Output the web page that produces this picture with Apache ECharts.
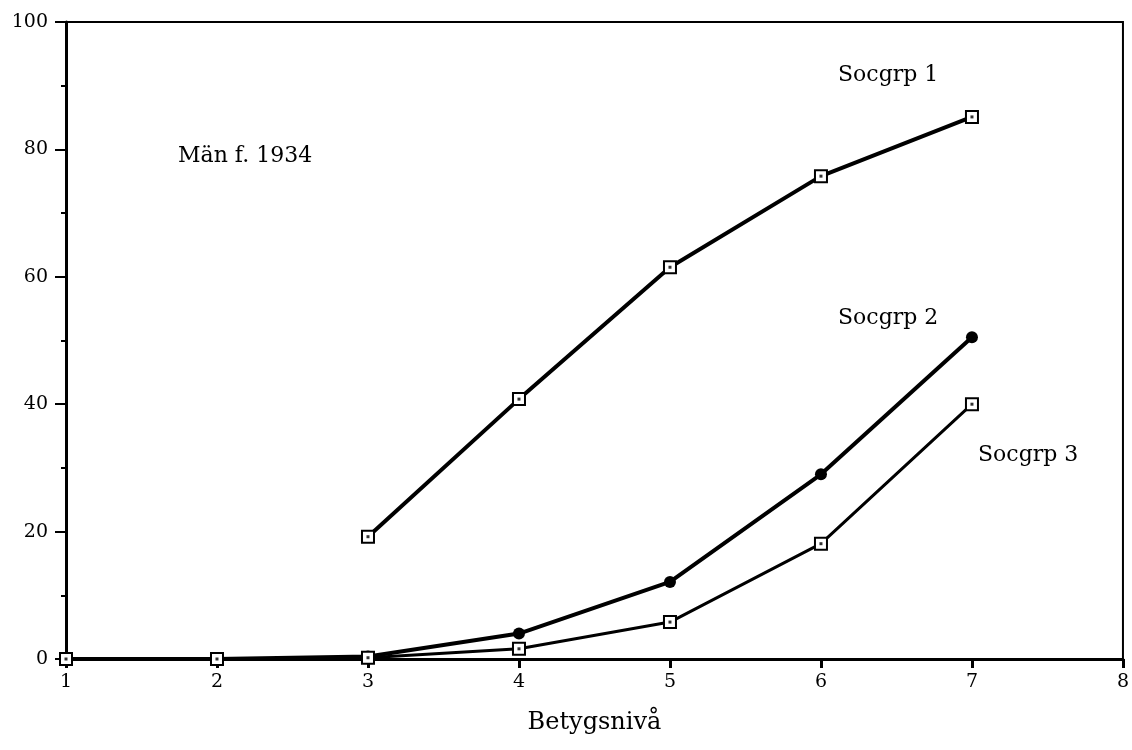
<!DOCTYPE html>
<html>
<head>
<meta charset="utf-8">
<script src="https://cdn.jsdelivr.net/npm/echarts@6/dist/echarts.min.js"></script>
<style>
  html, body { margin: 0; padding: 0; background: #fff; }
  #chart { width: 1132px; height: 750px; }
</style>
</head>
<body>
<div id="chart"></div>
<script>
// betygsnivå 1..7
const levels = [1, 2, 3, 4, 5, 6, 7]
const socgrp1 = [null, null, 19.2, 40.8, 61.5, 75.8, 85.1]
const socgrp2 = [0, 0, 0.4, 4.0, 12.1, 29.0, 50.5]
const socgrp3 = [0, 0, 0.2, 1.6, 5.8, 18.1, 40.0]

const font = "'DejaVu Serif', 'Liberation Serif', serif"

function pairs(vals) {
  return levels.map((x, i) => [x, vals[i]])
}

// fyrkant med prick i mitten: vit ruta + svart prick ovanpå
function squareSeries(name, vals, lw) {
  return [
    {
      name: name,
      type: "line",
      data: pairs(vals),
      symbol: "emptyRect",
      symbolSize: 12,
      showAllSymbol: true,
      lineStyle: { color: "#000", width: lw },
      itemStyle: { color: "#000", borderColor: "#000", borderWidth: 3 },
      z: 3,
    },
    {
      name: name + " prick",
      type: "scatter",
      data: pairs(vals),
      symbol: "rect",
      symbolSize: 3,
      itemStyle: { color: "#000" },
      z: 4,
    },
  ]
}

const chart = echarts.init(document.getElementById("chart"))

chart.setOption({
  backgroundColor: "#fff",
  animation: false,
  grid: {
    left: 66,
    right: 6,
    top: 22,
    bottom: 91,
    show: true,
    borderColor: "#000",
    borderWidth: 2,
  },
  xAxis: {
    type: "value",
    min: 1,
    max: 8,
    interval: 1,
    name: "Betygsnivå",
    nameLocation: "middle",
    nameGap: 52,
    nameTextStyle: { fontFamily: font, fontSize: 24, color: "#000" },
    axisLine: { lineStyle: { color: "#000", width: 3 } },
    axisTick: { length: 9, lineStyle: { color: "#000", width: 3 } },
    axisLabel: { fontFamily: font, fontSize: 19, color: "#000", margin: 14 },
    splitLine: { show: false },
  },
  yAxis: {
    type: "value",
    min: 0,
    max: 100,
    interval: 20,
    axisLine: { show: true, lineStyle: { color: "#000", width: 3 } },
    axisTick: { show: true, length: 11, lineStyle: { color: "#000", width: 2 } },
    minorTick: { show: true, splitNumber: 2, length: 5, lineStyle: { color: "#000", width: 2 } },
    axisLabel: { fontFamily: font, fontSize: 19, color: "#000", margin: 18 },
    splitLine: { show: false },
  },
  graphic: [
    { type: "text", left: 178, top: 145, style: { text: "Män f. 1934", font: "22px " + font, fill: "#000" } },
    { type: "text", left: 838, top: 64, style: { text: "Socgrp 1", font: "22px " + font, fill: "#000" } },
    { type: "text", left: 838, top: 307, style: { text: "Socgrp 2", font: "22px " + font, fill: "#000" } },
    { type: "text", left: 978, top: 444, style: { text: "Socgrp 3", font: "22px " + font, fill: "#000" } },
  ],
  series: [
    ...squareSeries("Socgrp 1", socgrp1, 4),
    {
      name: "Socgrp 2",
      type: "line",
      data: pairs(socgrp2),
      symbol: "circle",
      symbolSize: 12,
      showAllSymbol: true,
      lineStyle: { color: "#000", width: 4 },
      itemStyle: { color: "#000" },
      z: 3,
    },
    ...squareSeries("Socgrp 3", socgrp3, 3),
  ],
})
</script>
</body>
</html>
